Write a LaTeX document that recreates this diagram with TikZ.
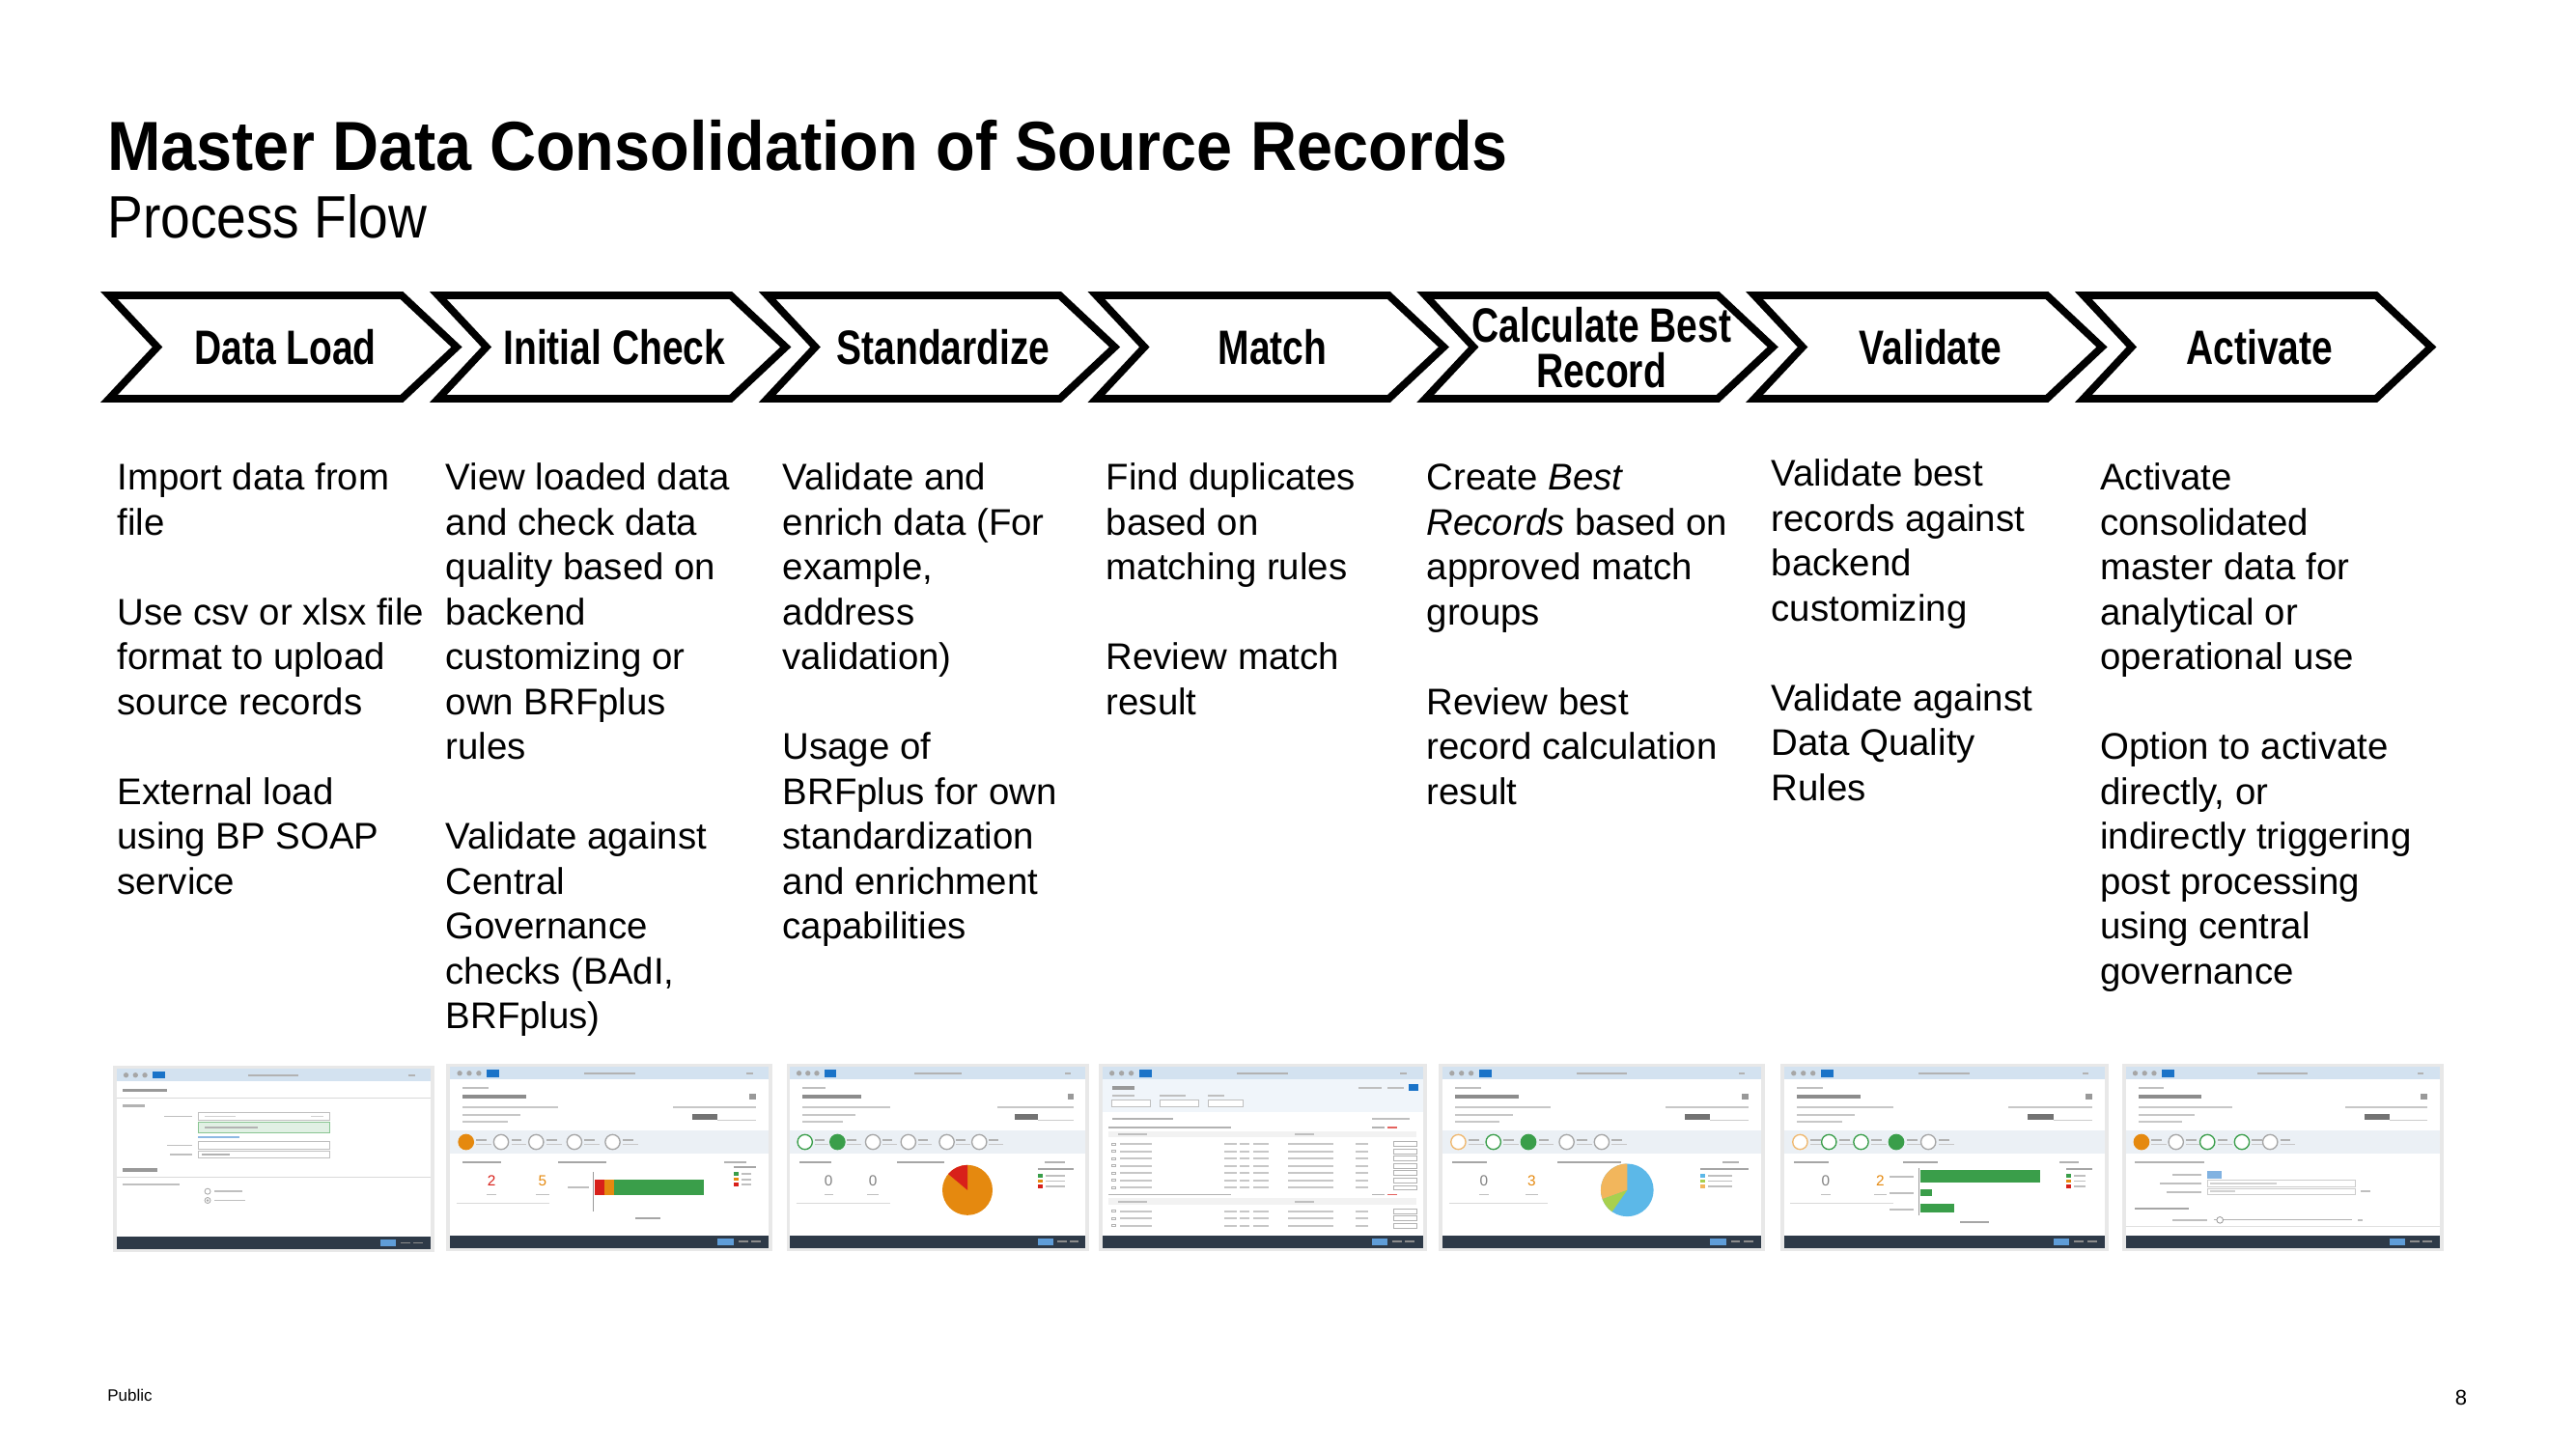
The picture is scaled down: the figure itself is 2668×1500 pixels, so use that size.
\documentclass[tikz,border=0pt]{standalone}
\usepackage{fontspec}
\setmainfont{Liberation Sans}
\newfontfamily\titlefont{Liberation Sans}[FakeStretch=0.925]
\newfontfamily\subtitlefont{Liberation Sans}[FakeStretch=0.89]
\newfontfamily\chevronfont{Liberation Sans}[FakeStretch=0.78]

\definecolor{hdrblue}{HTML}{D3E2F0}
\definecolor{footdark}{HTML}{2E3A48}
\definecolor{bandgray}{HTML}{EBF0F5}
\definecolor{sapblue}{HTML}{1A73C8}
\definecolor{okgreen}{HTML}{3A9E4A}
\definecolor{warnorange}{HTML}{E5890F}
\definecolor{errred}{HTML}{D8201A}
\definecolor{pieblue}{HTML}{5CB8E8}
\definecolor{pieorange}{HTML}{F2B65C}
\definecolor{piegreen}{HTML}{A8D04E}

\tikzset{
  chevron/.style={draw=black, line width=2.3pt, fill=white, line join=miter},
  chevlabel/.style={font=\chevronfont\bfseries\fontsize{15pt}{14.3pt}\selectfont, align=center, inner sep=0pt},
  body/.style={font=\fontsize{11.52pt}{13.95pt}\selectfont, align=left, anchor=north west, inner sep=0pt},
  hair/.style={line width=0.25pt},
  shotnum/.style={font=\fontsize{4.6pt}{5pt}\selectfont, inner sep=0pt},
}

% common window chrome of a small application screen
\newcommand\shotbase{%
  \fill[black!9] (-1.2,-1.8) rectangle (101.2,101.8);
  \fill[white] (0,0) rectangle (100,100);
  \fill[hdrblue] (0,0) rectangle (100,7);
  \fill[sapblue] (11.5,1.6) rectangle (15.5,5.6);
  \foreach \xx in {3,6,9}{\fill[black!35] (\xx,3.6) circle[radius=0.8pt];}
  \fill[black!30] (42,3.1) rectangle (58,4.2);
  \fill[black!30] (93,3.1) rectangle (95,4.2);
  \fill[footdark] (0,93) rectangle (100,100);
  \fill[sapblue!70] (84,94.8) rectangle (89,98.2);
  \foreach \xx in {90.5,94.5}{\fill[black!45] (\xx,96) rectangle (\xx+3,97);}
}
% object page header with process step band
\newcommand\objheader[1]{%
  \fill[black!25] (4,11) rectangle (12,12);
  \fill[black!45] (4,15.5) rectangle (24,17.5);
  \fill[black!22] (4,22) rectangle (34,23);
  \fill[black!22] (4,26) rectangle (22,27);
  \fill[black!22] (4,30) rectangle (18,31);
  \fill[black!40] (94,15) rectangle (96,18);
  \fill[black!22] (70,22) rectangle (96,23);
  \fill[black!55] (76,26) rectangle (84,29.5);
  \draw[black!20, hair] (84,29.5) -- (96,29.5);
  \fill[bandgray] (0,35) rectangle (100,48);
  \foreach \sx/\sd/\sf in {#1}{%
    \draw[line width=0.4pt, draw=\sd, fill=\sf] (\sx,41.5) circle[radius=2.3pt];
    \fill[black!30] (\sx+3.2,40) rectangle (\sx+6.5,41);
    \fill[black!22] (\sx+3.2,42.5) rectangle (\sx+8,43.3);
  }
}

\begin{document}
\begin{tikzpicture}[x=0.3pt,y=-0.3pt]
\useasboundingbox[fill=white] (0,0) rectangle (2668,1500);

% heading
\node[anchor=base west, inner sep=0pt, font=\titlefont\bfseries\fontsize{21.6pt}{26pt}\selectfont] (title) at (110.6,177) {Master Data Consolidation of Source Records};
\node[anchor=base west, inner sep=0pt, font=\subtitlefont\fontsize{18.6pt}{22pt}\selectfont] (subtitle) at (110.6,247) {Process Flow};

% process chevrons
\foreach \i/\lab in {0/{Data Load},1/{Initial Check},2/{Standardize},3/{Match},4/{Calculate Best\\Record},5/{Validate},6/{Activate}}{
  \pgfmathsetmacro\L{113+340.8*\i}
  \draw[chevron] (\L,306) -- ++(303,0) -- ++(57,53.5) -- ++(-57,53.5) -- ++(-303,0) -- ++(50,-53.5) -- cycle;
  \node[chevlabel] (step\i) at (\L+182.5,360) {\lab};
}

% step descriptions (top edge = first baseline minus strut height)
\node[body] (desc0) at (120.8,474.5) {\strut Import data from\\file\\[13.95pt]Use csv or xlsx file\\format to upload\\source records\\[13.95pt]External load\\using BP SOAP\\service};
\node[body] (desc1) at (461,474.5) {\strut View loaded data\\and check data\\quality based on\\backend\\customizing or\\own BRFplus\\rules\\[13.95pt]Validate against\\Central\\Governance\\checks (BAdI,\\BRFplus)};
\node[body] (desc2) at (810,474.5) {\strut Validate and\\enrich data (For\\example,\\address\\validation)\\[13.95pt]Usage of\\BRFplus for own\\standardization\\and enrichment\\capabilities};
\node[body] (desc3) at (1145,474.5) {\strut Find duplicates\\based on\\matching rules\\[13.95pt]Review match\\result};
\node[body] (desc4) at (1477,474.5) {\strut Create \textit{Best}\\\textit{Records} based on\\approved match\\groups\\[13.95pt]Review best\\record calculation\\result};
\node[body] (desc5) at (1834,470.5) {\strut Validate best\\records against\\backend\\customizing\\[13.95pt]Validate against\\Data Quality\\Rules};
\node[body] (desc6) at (2174.5,474.5) {\strut Activate\\consolidated\\master data for\\analytical or\\operational use\\[13.95pt]Option to activate\\directly, or\\indirectly triggering\\post processing\\using central\\governance};

% screen 1: data import
\begin{scope}[shift={(120.8,1107)}, x=0.975pt, y=-0.561pt]
  \shotbase
  \fill[black!40] (2,11) rectangle (16,13);
  \draw[black!15, hair] (0,16) -- (100,16);
  \fill[black!30] (2,20) rectangle (9,21.2);
  \fill[black!25] (15,26) rectangle (24,27);
  \draw[black!25, hair, fill=white] (26,24.5) rectangle (68,28.5);
  \fill[black!18] (28,26) rectangle (38,27);
  \fill[black!18] (62,26) rectangle (66,27);
  \draw[okgreen!60, hair, fill=okgreen!15] (26,29.5) rectangle (68,35.5);
  \fill[black!30] (28,32) rectangle (45,33);
  \fill[sapblue!50] (26,37.5) rectangle (39,38.5);
  \fill[black!25] (16,42) rectangle (24,43);
  \draw[black!25, hair, fill=white] (26,40.5) rectangle (68,44.5);
  \fill[black!25] (17,47) rectangle (24,48);
  \draw[black!25, hair, fill=white] (26,45.5) rectangle (68,49.5);
  \fill[black!30] (27,47) rectangle (36,48);
  \fill[black!40] (2,55) rectangle (13,57);
  \draw[black!15, hair] (0,60) -- (100,60);
  \fill[black!25] (2,63.5) rectangle (20,64.5);
  \draw[black!35, hair] (29,68) circle[radius=0.9pt];
  \fill[black!25] (31,67.5) rectangle (40,68.5);
  \draw[black!35, hair] (29,73) circle[radius=0.9pt];
  \fill[black!35] (29,73) circle[radius=0.4pt];
  \fill[black!25] (31,72.5) rectangle (41,73.5);
\end{scope}

% screen 2: initial check
\begin{scope}[shift={(466.2,1105)}, x=0.99pt, y=-0.564pt]
  \shotbase
  \objheader{5/warnorange/warnorange,16/black!35/white,27/black!35/white,39/black!35/white,51/black!35/white}
  \fill[black!35] (4,52) rectangle (16,53.2);
  \node[shotnum, text=errred] (s2err) at (13,63) {2};
  \node[shotnum, text=warnorange] (s2warn) at (29,63) {5};
  \fill[black!25] (11.5,70) rectangle (14.5,71);
  \fill[black!25] (27,70) rectangle (31,71);
  \draw[black!15, hair] (2,75) -- (31,75);
  \fill[black!35] (34,52) rectangle (49,53.2);
  \fill[black!30] (86,52) rectangle (93,53.2);
  \draw[black!40, hair] (45,58) -- (45,80);
  \fill[black!25] (37,66) rectangle (43.5,67);
  \fill[errred] (45.5,62) rectangle (48.5,71);
  \fill[warnorange] (48.5,62) rectangle (51.5,71);
  \fill[okgreen] (51.5,62) rectangle (79.5,71);
  \fill[black!35] (58,83) rectangle (66,84);
  \fill[black!35] (89,55) rectangle (96,56);
  \foreach \yy/\cc in {58/okgreen,61/warnorange,64/errred}{
    \fill[\cc] (89,\yy) rectangle (90.5,\yy+2);
    \fill[black!25] (91.5,\yy+0.5) rectangle (94.5,\yy+1.5);
  }
\end{scope}

% screen 3: standardization
\begin{scope}[shift={(818.4,1105)}, x=0.918pt, y=-0.564pt]
  \shotbase
  \objheader{5/okgreen/white,16/okgreen/okgreen,28/black!35/white,40/black!35/white,53/black!35/white,64/black!35/white}
  \fill[black!35] (3,52) rectangle (14,53.2);
  \node[shotnum, text=black!50] (s3err) at (13,63) {0};
  \node[shotnum, text=black!50] (s3warn) at (28,63) {0};
  \fill[black!25] (11.5,70) rectangle (14.5,71);
  \fill[black!25] (26,70) rectangle (30,71);
  \draw[black!15, hair] (2,75) -- (34,75);
  \fill[black!35] (36,52) rectangle (52,53.2);
  \fill[black!30] (86,52) rectangle (93,53.2);
  \fill[warnorange] (60,68) circle[radius=7.8pt];
  \fill[errred] (60,68) -- ++(90:7.8pt) arc[start angle=90, end angle=140, radius=7.8pt] -- cycle;
  \fill[black!35] (84,56) rectangle (96,57);
  \foreach \yy/\cc in {59/okgreen,62/warnorange,65/errred}{
    \fill[\cc] (84,\yy) rectangle (85.5,\yy+2);
    \fill[black!25] (86.5,\yy+0.5) rectangle (93,\yy+1.5);
  }
\end{scope}

% screen 4: match review table
\begin{scope}[shift={(1141.7,1105)}, x=0.996pt, y=-0.564pt]
  \shotbase
  \fill[hdrblue!35] (0,7) rectangle (100,25);
  \fill[black!40] (3,10.5) rectangle (10,12.5);
  \foreach \xx/\ww in {3/7,18/8,33/5}{\fill[black!25] (\xx,15.5) rectangle (\xx+\ww,16.5);}
  \foreach \xx/\ww in {3/12,18/12,33/11}{\draw[black!25, hair, fill=white] (\xx,18.5) rectangle (\xx+\ww,22);}
  \fill[black!25] (80,11) rectangle (87,12);
  \fill[black!25] (89,11) rectangle (94,12);
  \fill[sapblue] (95.5,9.5) rectangle (98.5,13.5);
  \fill[black!30] (3,28) rectangle (22,29);
  \fill[black!25] (84,28) rectangle (96,29);
  \foreach \gy/\rows in {33/{42,46,50,54,58,62,66},70/{79,83,87}}{
    \fill[black!30] (2,\gy) rectangle (40,\gy+1);
    \fill[black!30] (84,\gy) rectangle (88,\gy+1);
    \fill[errred!70] (89,\gy) rectangle (92,\gy+1);
    \fill[black!5] (2,\gy+2.5) rectangle (98,\gy+6);
    \fill[black!25] (5,\gy+3.8) rectangle (14,\gy+4.8);
    \fill[black!25] (60,\gy+3.8) rectangle (66,\gy+4.8);
    \foreach \ry in \rows{
      \draw[black!30, hair] (3,\ry) rectangle (4.2,\ry+1.2);
      \foreach \xx/\ww in {5.5/10,38/4,43/3,47/5,58/14,79/4}{\fill[black!22] (\xx,\ry+0.1) rectangle (\xx+\ww,\ry+1.1);}
      \draw[black!30, hair] (91,\ry-0.6) rectangle (98,\ry+1.9);
    }
  }
\end{scope}

% screen 5: best record calculation
\begin{scope}[shift={(1493.9,1105)}, x=0.99pt, y=-0.564pt]
  \shotbase
  \objheader{5/warnorange!60/white,16/okgreen/white,27/okgreen/okgreen,39/black!35/white,50/black!35/white}
  \fill[black!35] (3,52) rectangle (14,53.2);
  \node[shotnum, text=black!50] (s5err) at (13,63) {0};
  \node[shotnum, text=warnorange] (s5warn) at (28,63) {3};
  \fill[black!25] (11.5,70) rectangle (14.5,71);
  \fill[black!25] (26,70) rectangle (30,71);
  \draw[black!15, hair] (2,75) -- (33,75);
  \fill[black!35] (36,52) rectangle (56,53.2);
  \fill[black!30] (88,52) rectangle (93,53.2);
  \fill[pieblue] (58,68) circle[radius=8.2pt];
  \fill[pieorange] (58,68) -- ++(90:8.2pt) arc[start angle=90, end angle=200, radius=8.2pt] -- cycle;
  \fill[piegreen] (58,68) -- ++(200:8.2pt) arc[start angle=200, end angle=235, radius=8.2pt] -- cycle;
  \fill[black!35] (81,56) rectangle (96,57);
  \foreach \yy/\cc in {59/pieblue,62/piegreen,65/pieorange}{
    \fill[\cc] (81,\yy) rectangle (82.5,\yy+2);
    \fill[black!25] (83.5,\yy+0.5) rectangle (91,\yy+1.5);
  }
\end{scope}

% screen 6: validation
\begin{scope}[shift={(1847.8,1105)}, x=0.996pt, y=-0.564pt]
  \shotbase
  \objheader{5/warnorange!60/white,14/okgreen/white,24/okgreen/white,35/okgreen/okgreen,45/black!35/white}
  \fill[black!35] (3,52) rectangle (14,53.2);
  \node[shotnum, text=black!50] (s6err) at (13,63) {0};
  \node[shotnum, text=warnorange] (s6warn) at (30,63) {2};
  \fill[black!25] (11.5,70) rectangle (14.5,71);
  \fill[black!25] (28,70) rectangle (32,71);
  \draw[black!15, hair] (2,75) -- (34,75);
  \fill[black!35] (37,52) rectangle (48,53.2);
  \fill[black!30] (86,52) rectangle (92,53.2);
  \draw[black!40, hair] (42,56) -- (42,82);
  \fill[okgreen] (42.5,57) rectangle (80,64);
  \fill[okgreen] (42.5,67.5) rectangle (46,71.5);
  \fill[okgreen] (42.5,75.5) rectangle (53,80.5);
  \foreach \yy in {60,69,78}{\fill[black!25] (33,\yy) rectangle (40.5,\yy+1);}
  \fill[black!35] (55,85) rectangle (64,86);
  \fill[black!35] (88,56) rectangle (96,57);
  \foreach \yy/\cc in {59/okgreen,62/warnorange,65/errred}{
    \fill[\cc] (88,\yy) rectangle (89.5,\yy+2);
    \fill[black!25] (90.5,\yy+0.5) rectangle (94,\yy+1.5);
  }
\end{scope}

% screen 7: activation
\begin{scope}[shift={(2201.7,1105)}, x=0.975pt, y=-0.564pt]
  \shotbase
  \objheader{5/warnorange/warnorange,16/black!35/white,26/okgreen/white,37/okgreen/white,46/black!35/white}
  \fill[black!30] (3,52) rectangle (25,53.2);
  \fill[black!25] (15,59) rectangle (24,60);
  \fill[sapblue!55] (26,57.5) rectangle (30.5,61.5);
  \fill[black!25] (11,64) rectangle (24,65);
  \draw[black!20, hair] (26,62.5) rectangle (73,66);
  \fill[black!18] (27,63.8) rectangle (48,64.8);
  \fill[black!25] (13,68.5) rectangle (24,69.5);
  \draw[black!20, hair] (26,67) rectangle (73,70.5);
  \fill[black!18] (27,68.3) rectangle (35,69.3);
  \fill[black!25] (75,68.3) rectangle (78,69.3);
  \fill[black!35] (3,77.5) rectangle (20,78.7);
  \fill[black!25] (15,84) rectangle (26,85);
  \draw[black!30, hair] (28,84.5) -- (72,84.5);
  \draw[black!40, hair, fill=white] (30,84.5) circle[radius=1pt];
  \fill[black!25] (74,84) rectangle (75.5,85);
  \draw[black!12, hair] (0,88) -- (100,88);
\end{scope}

% footer
\node[anchor=base west, inner sep=0pt, font=\fontsize{5.1pt}{6pt}\selectfont] (public) at (110.6,1451) {Public};
\node[anchor=base, inner sep=0pt, font=\fontsize{6.6pt}{8pt}\selectfont] (pagenum) at (2549,1455) {8};
\end{tikzpicture}
\end{document}
